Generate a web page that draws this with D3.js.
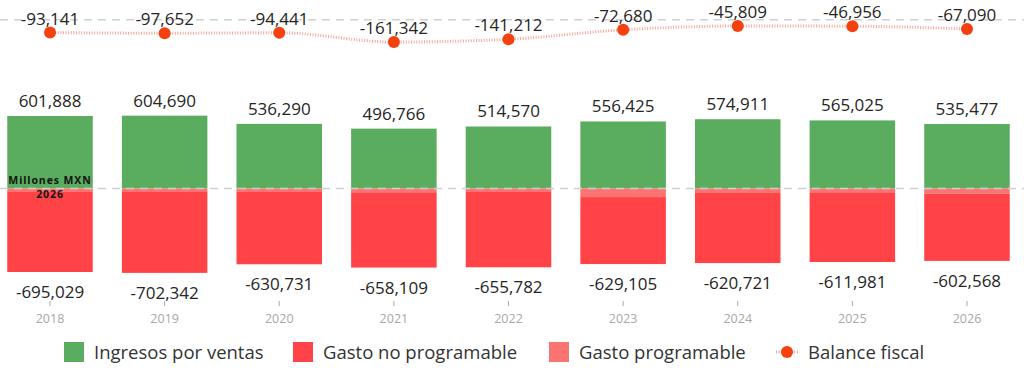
<!DOCTYPE html>
<html><head><meta charset="utf-8">
<script src="https://cdn.jsdelivr.net/npm/d3@7"></script>
<style>
html,body{margin:0;padding:0;background:#fff;}
svg{display:block;font-family:"Open Sans",sans-serif;}
</style></head>
<body>
<svg id="c" width="1024" height="371"></svg>
<script>
const years = ["2018","2019","2020","2021","2022","2023","2024","2025","2026"];
const ingresos = [601888, 604690, 536290, 496766, 514570, 556425, 574911, 565025, 535477];
const gastoNoProg = [-665029, -672342, -600731, -626109, -625782, -557105, -582721, -579981, -557568];
const gastoProg = [-30000, -30000, -30000, -32000, -30000, -72000, -38000, -32000, -45000];
const balance = [-93141, -97652, -94441, -161342, -141212, -72680, -45809, -46956, -67090];
const legendLabels = ["Ingresos por ventas", "Gasto no programable", "Gasto programable", "Balance fiscal"];
const unitLabel = ["Millones MXN", "2026"];

const colors = {ing:"#5aad5e", noProg:"#ff4347", prog:"#fa7471", bal:"#f5400f", line:"rgba(240,90,70,0.55)"};

const svg = d3.select("#c");
const fmt = d3.format(",");

const x = d3.scaleBand().domain(years).range([-7.3, 1024.3]).paddingInner(0.254).paddingOuter(0.127);
const y = d3.scaleLinear().domain([-750000, 650000]).range([188.4 + 750000*1.203e-4, 188.4 - 650000*1.203e-4]);
const y2 = d3.scaleLinear().domain([-200000, 0]).range([19.7 + 200000*1.385e-4, 19.7]);

// gridlines
svg.append("line").attr("x1",0).attr("x2",1024).attr("y1",y2(0)).attr("y2",y2(0))
  .attr("stroke","#d0d0d0").attr("stroke-width",1.5).attr("stroke-dasharray","8,6");

// bars
const g = svg.append("g");
years.forEach((yr,i)=>{
  g.append("rect").attr("x",x(yr)).attr("width",x.bandwidth())
    .attr("y",y(ingresos[i])).attr("height",y(0)-y(ingresos[i])).attr("fill",colors.ing);
  g.append("rect").attr("x",x(yr)).attr("width",x.bandwidth())
    .attr("y",y(gastoProg[i])).attr("height",y(gastoProg[i]+gastoNoProg[i])-y(gastoProg[i])).attr("fill",colors.noProg);
  g.append("rect").attr("x",x(yr)).attr("width",x.bandwidth())
    .attr("y",y(0)).attr("height",y(gastoProg[i])-y(0)).attr("fill",colors.prog);
});

svg.append("line").attr("x1",0).attr("x2",1024).attr("y1",y(0)).attr("y2",y(0))
  .attr("stroke","#cfcfcf").attr("stroke-width",1.5).attr("stroke-dasharray","8,6");

// bar labels
years.forEach((yr,i)=>{
  const cx = x(yr)+x.bandwidth()/2;
  svg.append("text").attr("x",cx).attr("y",y(ingresos[i])-9).attr("text-anchor","middle")
    .attr("font-size",17).attr("fill","#252525").text(fmt(ingresos[i]));
  const tot = gastoNoProg[i]+gastoProg[i];
  svg.append("text").attr("x",cx).attr("y",y(tot)+26).attr("text-anchor","middle")
    .attr("font-size",17).attr("fill","#252525").text(fmt(tot).replace("−","-"));
});

// unit label
svg.append("text").attr("x",x("2018")+x.bandwidth()/2).attr("y",183.5).attr("text-anchor","middle")
  .attr("font-size",10.5).attr("letter-spacing",0.9).attr("font-weight","bold").attr("fill","#141414").text(unitLabel[0]);
svg.append("text").attr("x",x("2018")+x.bandwidth()/2).attr("y",198).attr("text-anchor","middle")
  .attr("font-size",10.5).attr("letter-spacing",0.9).attr("font-weight","bold").attr("fill","#141414").text(unitLabel[1]);

// x axis
const ax = svg.append("g").attr("transform","translate(0,301)")
  .call(d3.axisBottom(x).tickSize(5).tickPadding(8));
ax.select(".domain").remove();
ax.selectAll(".tick line").attr("stroke","#aaa");
ax.selectAll(".tick text").attr("font-size",12.5).attr("fill","#a8a8a8").attr("font-family","Open Sans, sans-serif");

// balance line
const line = d3.line().x((d,i)=>x(years[i])+x.bandwidth()/2).y(d=>y2(d)).curve(d3.curveMonotoneX);
svg.append("path").datum(balance).attr("d",line).attr("fill","none")
  .attr("stroke",colors.line).attr("stroke-width",3).attr("stroke-dasharray","1,1.6");
balance.forEach((v,i)=>{
  const cx = x(years[i])+x.bandwidth()/2;
  svg.append("circle").attr("cx",cx).attr("cy",y2(v)).attr("r",6).attr("fill",colors.bal);
  svg.append("text").attr("x",cx).attr("y",y2(v)-8).attr("text-anchor","middle")
    .attr("font-size",17).attr("fill","#252525").text(fmt(v).replace("−","-"));
});

// legend
const lg = svg.append("g");
const items = [
  {t:legendLabels[0], c:colors.ing, x:64},
  {t:legendLabels[1], c:colors.noProg, x:293},
  {t:legendLabels[2], c:colors.prog, x:549},
];
items.forEach(it=>{
  lg.append("rect").attr("x",it.x).attr("y",342).attr("width",20).attr("height",20).attr("fill",it.c);
  lg.append("text").attr("x",it.x+30).attr("y",358.5).attr("font-size",18.5).attr("fill","#333").text(it.t);
});
lg.append("line").attr("x1",776).attr("x2",798).attr("y1",352).attr("y2",352)
  .attr("stroke",colors.line).attr("stroke-width",3).attr("stroke-dasharray","1,1.6");
lg.append("circle").attr("cx",787).attr("cy",352).attr("r",6).attr("fill",colors.bal);
lg.append("text").attr("x",808).attr("y",358.5).attr("font-size",18.5).attr("fill","#333").text(legendLabels[3]);
</script>
</body></html>
